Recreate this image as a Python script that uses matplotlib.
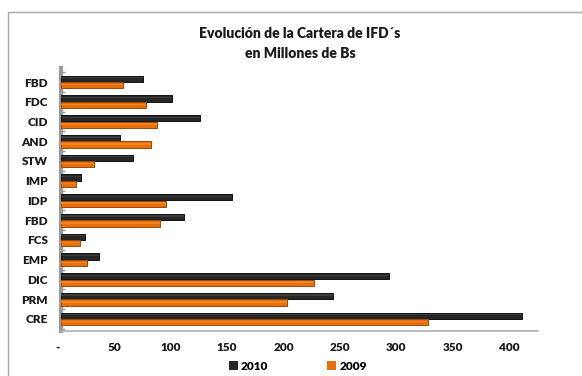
import matplotlib
matplotlib.use("Agg")
import matplotlib.pyplot as plt
import matplotlib.transforms as mtransforms
from matplotlib.patches import Rectangle, Patch
import numpy as np

plt.rcParams['font.family'] = ['Lato', 'DejaVu Sans']

# Categories listed from bottom to top
categories = ["CRE", "PRM", "DIC", "EMP", "FCS", "FBD", "IDP", "IMP",
              "STW", "AND", "CID", "FDC", "FBD"]
values_2010 = [408, 241, 290, 34, 21, 109, 151, 18, 64, 52, 123, 98, 73]
values_2009 = [325, 200, 224, 23, 17, 88, 93, 13, 29, 80, 85, 75, 55]
x_ticks = [0, 50, 100, 150, 200, 250, 300, 350, 400]
x_tick_labels = ["-", "50", "100", "150", "200", "250", "300", "350", "400"]
series_names = ["2010", "2009"]

W, H = 582, 376
fig = plt.figure(figsize=(W / 100, H / 100), dpi=100)

# outer chart frame
fig.patches.append(Rectangle((8 / W, -0.1), 1.2, 1 - 12 / H + 0.1,
                             transform=fig.transFigure, fill=False,
                             edgecolor="#a6a6a6", linewidth=1.0))

ax_left, ax_right = 61, 538
ax_top, ax_bottom = 68, 331
ax = fig.add_axes([ax_left / W, 1 - ax_bottom / H,
                   (ax_right - ax_left) / W, (ax_bottom - ax_top) / H])

y = np.arange(len(categories))
bar_h = 0.32
off = 0.165
dark = "#262626"
orange = "#E8700C"

ax.barh(y + off, values_2010, height=bar_h, color=dark,
        edgecolor="#111111", linewidth=0.7, zorder=3)
ax.barh(y - off, values_2009, height=bar_h, color=orange,
        edgecolor="#9a4a08", linewidth=0.7, zorder=3)
# highlight stripes for a rounded look
ax.barh(y + off + bar_h * 0.15, values_2010, height=bar_h * 0.2,
        color="#3c3c3c", linewidth=0, zorder=4)
ax.barh(y - off + bar_h * 0.1, values_2009, height=bar_h * 0.25,
        color="#f5831f", linewidth=0, zorder=4)

ax.set_xlim(0, (ax_right - ax_left) / 1.13)
ax.set_ylim(-0.61, 12.71)

label_font = {"fontsize": 8.5, "fontweight": "heavy", "color": "#1a1a1a"}
ax.set_yticks(y)
ax.set_yticklabels(categories, **label_font)
ax.set_yticks(np.arange(-0.5, len(categories), 1.0), minor=True)
ax.tick_params(axis="y", which="major", length=0, pad=9.5)
ax.tick_params(axis="y", which="minor", length=3, direction="in",
               color="#a0a0a0", width=1)

ax.set_xticks(x_ticks)
ax.set_xticklabels(x_tick_labels, **label_font)
ax.tick_params(axis="x", length=0, pad=8)
shift = mtransforms.ScaledTranslation(-3.5 / 100, 0, fig.dpi_scale_trans)
for lbl in ax.get_xticklabels():
    lbl.set_transform(lbl.get_transform() + shift)

for side in ("top", "right"):
    ax.spines[side].set_visible(False)
ax.spines["left"].set_color("#9a9a9a")
ax.spines["left"].set_linewidth(3.0)
ax.spines["bottom"].set_color("#b0b0b0")
ax.spines["bottom"].set_linewidth(1.2)
ax.set_facecolor("white")

title_font = {"fontsize": 10, "fontweight": "heavy", "color": "#1a1a1a"}
fig.text(300 / W, 1 - 34 / H, "Evolución de la Cartera de IFD´s",
         ha="center", va="center", **title_font)
fig.text(300 / W, 1 - 53 / H, "en Millones de Bs",
         ha="center", va="center", **title_font)

handles = [Patch(facecolor=dark), Patch(facecolor=orange)]
fig.legend(handles, series_names, loc="center", bbox_to_anchor=(298 / W, 1 - 366 / H),
           ncol=2, frameon=False, handlelength=0.7, handleheight=0.7,
           handletextpad=0.3, columnspacing=5.0,
           prop={"size": 8.5, "weight": "heavy"})

fig.savefig("out.png", dpi=100)
